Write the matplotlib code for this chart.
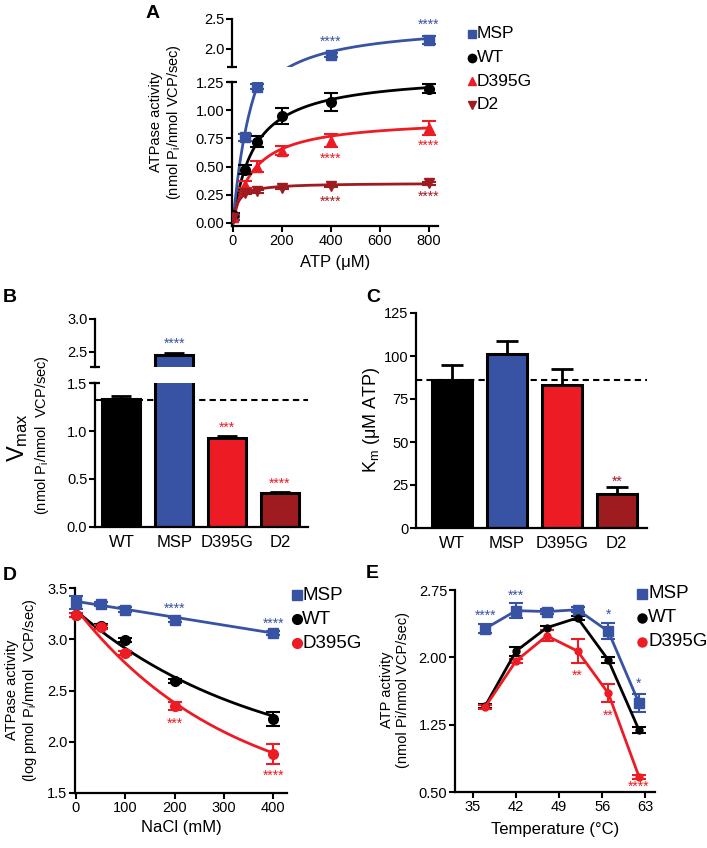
import matplotlib
matplotlib.use('Agg')
import matplotlib.pyplot as plt
import numpy as np

W, H = 707, 848
plt.rcParams['font.family'] = ['Liberation Sans', 'DejaVu Sans']
plt.rcParams['mathtext.fontset'] = 'custom'
plt.rcParams['mathtext.rm'] = 'Liberation Sans'
plt.rcParams['mathtext.it'] = 'Liberation Sans:italic'
plt.rcParams['mathtext.bf'] = 'Liberation Sans:bold'

BLUE = '#3953a4'
BLACK = '#000000'
RED = '#ed1c24'
DRED = '#9e1b20'

# ---------------- Panel A data ----------------
atp_conc = [0, 50, 100, 200, 400, 800]
a_msp_x = [0, 50, 100, 400, 800]
a_msp = [0.05, 0.76, 1.21, 1.90, 2.15]
a_msp_err = [0.02, 0.03, 0.02, 0.04, 0.07]
a_wt = [0.07, 0.47, 0.72, 0.95, 1.07, 1.19]
a_wt_err = [0.02, 0.04, 0.05, 0.07, 0.08, 0.04]
a_d395g = [0.05, 0.34, 0.50, 0.64, 0.73, 0.84]
a_d395g_err = [0.02, 0.03, 0.05, 0.04, 0.06, 0.06]
a_d2 = [0.04, 0.27, 0.28, 0.31, 0.33, 0.35]
a_d2_err = [0.01, 0.01, 0.01, 0.01, 0.01, 0.01]

# ---------------- Panels B / C data (fit parameters) ----------------
groups = ['WT', 'MSP', 'D395G', 'D2']
vmax = [1.33, 2.45, 0.93, 0.355]
vmax_err = [0.03, 0.04, 0.02, 0.01]
km = [86, 101, 83, 19.5]
km_err = [9, 7.5, 9.5, 4.5]
vmax_ref = 1.32
km_ref = 86

# ---------------- Panel D data ----------------
nacl = [0, 50, 100, 200, 400]
d_msp = [3.36, 3.34, 3.29, 3.19, 3.06]
d_msp_err = [0.06, 0.02, 0.02, 0.02, 0.02]
d_wt = [3.24, 3.13, 2.99, 2.59, 2.22]
d_wt_err = [0.02, 0.02, 0.02, 0.02, 0.07]
d_d395g = [3.24, 3.12, 2.87, 2.35, 1.88]
d_d395g_err = [0.02, 0.02, 0.02, 0.04, 0.10]
# fitted decay: plateau, span, rate ; MSP linear: intercept, slope
d_fit_wt = [1.715, 1.565, 0.002683]
d_fit_d395g = [1.332, 1.968, 0.003151]
d_fit_msp = [3.37, -0.000775]

# ---------------- Panel E data ----------------
temps = [37, 42, 47, 52, 57, 62]
e_msp = [2.32, 2.52, 2.51, 2.53, 2.29, 1.49]
e_msp_err = [0.05, 0.08, 0.03, 0.03, 0.09, 0.10]
e_wt = [1.46, 2.07, 2.33, 2.44, 1.97, 1.19]
e_wt_err = [0.02, 0.05, 0.02, 0.02, 0.03, 0.03]
e_d395g = [1.45, 1.96, 2.24, 2.07, 1.60, 0.67]
e_d395g_err = [0.02, 0.02, 0.06, 0.13, 0.10, 0.02]

fig = plt.figure(figsize=(W / 100, H / 100), dpi=100)


def add_ax(l, t, r, b):
    return fig.add_axes([l / W, 1 - b / H, (r - l) / W, (b - t) / H])


def style(ax, bottom=True):
    for s in ['top', 'right']:
        ax.spines[s].set_visible(False)
    ax.spines['left'].set_linewidth(1.6)
    ax.spines['bottom'].set_linewidth(1.6)
    if not bottom:
        ax.spines['bottom'].set_visible(False)
    ax.tick_params(direction='out', length=4, width=1.5, labelsize=10.5, pad=1.5)
    ax.patch.set_alpha(0)


LW = 2.0
EB = dict(capsize=5, elinewidth=1.5, capthick=1.5)

# ================= Panel A =================
aU = add_ax(232, 19, 438, 67)
aL = add_ax(232, 82, 438, 226)
xx = np.linspace(0, 800, 400)
for ax in (aU, aL):
    for vm, k, c in zip(vmax, km, [BLACK, BLUE, RED, DRED]):
        ax.plot(xx, vm * xx / (k + xx), color=c, lw=LW, zorder=2)
    ax.errorbar(a_msp_x, a_msp, yerr=a_msp_err, fmt='s', color=BLUE, ms=7, zorder=3, **EB)
    ax.errorbar(atp_conc, a_wt, yerr=a_wt_err, fmt='o', color=BLACK, ms=7, zorder=3, **EB)
    ax.errorbar(atp_conc, a_d395g, yerr=a_d395g_err, fmt='^', color=RED, ms=7, zorder=3, **EB)
    ax.errorbar(atp_conc, a_d2, yerr=a_d2_err, fmt='v', color=DRED, ms=7, zorder=3, **EB)
    ax.set_xlim(-4, 837)
aU.set_ylim(1.7, 2.5)
aU.set_yticks([2.0, 2.5])
aU.set_yticklabels(['2.0', '2.5'])
style(aU, bottom=False)
aU.set_xticks([])
aL.set_ylim(-0.027, 1.25)
aL.set_yticks([0, 0.25, 0.5, 0.75, 1.0, 1.25])
aL.set_yticklabels(['0.00', '0.25', '0.50', '0.75', '1.00', '1.25'])
aL.set_xticks([0, 200, 400, 600, 800])
style(aL)
aL.set_xlabel('ATP (μM)', fontsize=12, labelpad=5)

star_kw = dict(ha='center', va='center', fontsize=10)
aU.text(400, 2.12, '****', color=BLUE, **star_kw)
aU.text(800, 2.41, '****', color=BLUE, **star_kw)
aL.text(400, 0.57, '****', color=RED, **star_kw)
aL.text(800, 0.68, '****', color=RED, **star_kw)
aL.text(400, 0.19, '****', color=DRED, **star_kw)
aL.text(800, 0.23, '****', color=DRED, **star_kw)

# ================= Panel B =================
bU = add_ax(95, 319, 308, 367)
bL = add_ax(95, 383, 308, 527)
bcol = [BLACK, BLUE, RED, DRED]
xb = np.arange(len(groups))
for ax in (bU, bL):
    ax.axhline(vmax_ref, color='black', lw=1.5, ls=(0, (3, 2)), zorder=1)
    ax.bar(xb, vmax, width=0.72, color=bcol, edgecolor='black', linewidth=2.2, zorder=2)
    ax.errorbar(xb, vmax, yerr=[[0] * 4, vmax_err], fmt='none', ecolor='black',
                capsize=7, elinewidth=2, capthick=2, zorder=1.5)
    ax.set_xlim(-0.5, 3.53)
bU.set_ylim(2.27, 3.0)
bU.set_yticks([2.5, 3.0])
bU.set_yticklabels(['2.5', '3.0'])
style(bU, bottom=False)
bU.set_xticks([])
bL.set_ylim(0, 1.5)
bL.set_yticks([0, 0.5, 1.0, 1.5])
bL.set_yticklabels(['0.0', '0.5', '1.0', '1.5'])
style(bL)
bL.set_xticks(xb)
bL.set_xticklabels(groups, fontsize=12)
bL.tick_params(axis='x', length=0, pad=6)
bU.text(1, 2.63, '****', color=BLUE, **star_kw)
bL.text(2, 1.03, '***', color=RED, **star_kw)
bL.text(3, 0.45, '****', color=RED, **star_kw)

# ================= Panel C =================
cA = add_ax(416, 313, 647, 528)
cA.axhline(km_ref, color='black', lw=1.5, ls=(0, (3, 2)), zorder=1)
cA.bar(xb, km, width=0.72, color=bcol, edgecolor='black', linewidth=2.2, zorder=2)
cA.errorbar(xb, km, yerr=[[0] * 4, km_err], fmt='none', ecolor='black',
            capsize=8, elinewidth=2, capthick=2, zorder=1.5)
cA.set_xlim(-0.65, 3.55)
cA.set_ylim(0, 125)
cA.set_yticks([0, 25, 50, 75, 100, 125])
style(cA)
cA.set_xticks(xb)
cA.set_xticklabels(groups, fontsize=12)
cA.tick_params(axis='x', length=0, pad=6)
cA.text(3, 27, '**', color=DRED, **star_kw)

# ================= Panel D =================
dA = add_ax(75, 588, 287, 793)
xd = np.linspace(0, 400, 300)
dA.plot(xd, d_fit_msp[0] + d_fit_msp[1] * xd, color=BLUE, lw=LW, zorder=2)
dA.plot(xd, d_fit_wt[0] + d_fit_wt[1] * np.exp(-d_fit_wt[2] * xd), color=BLACK, lw=LW, zorder=2)
dA.plot(xd, d_fit_d395g[0] + d_fit_d395g[1] * np.exp(-d_fit_d395g[2] * xd), color=RED, lw=LW, zorder=2)
dA.errorbar(nacl, d_msp, yerr=d_msp_err, fmt='s', color=BLUE, ms=7, zorder=3, clip_on=False, **EB)
dA.errorbar(nacl, d_wt, yerr=d_wt_err, fmt='o', color=BLACK, ms=7, zorder=3, clip_on=False, **EB)
dA.errorbar(nacl, d_d395g, yerr=d_d395g_err, fmt='o', color=RED, ms=7, zorder=3, clip_on=False, **EB)
dA.set_xlim(-2, 428)
dA.set_ylim(1.5, 3.5)
dA.set_xticks([0, 100, 200, 300, 400])
dA.set_yticks([1.5, 2.0, 2.5, 3.0, 3.5])
style(dA)
dA.set_xlabel('NaCl (mM)', fontsize=12, labelpad=4)
dA.text(200, 3.30, '****', color=BLUE, **star_kw)
dA.text(400, 3.15, '****', color=BLUE, **star_kw)
dA.text(200, 2.18, '***', color=RED, **star_kw)
dA.text(400, 1.67, '****', color=RED, **star_kw)

# ================= Panel E =================
eA = add_ax(455, 590, 655, 792)
eA.errorbar(temps, e_msp, yerr=e_msp_err, fmt='-s', color=BLUE, ms=6.5, lw=LW, zorder=3, clip_on=False, **EB)
eA.errorbar(temps, e_wt, yerr=e_wt_err, fmt='-o', color=BLACK, ms=5, lw=LW, zorder=3, clip_on=False, **EB)
eA.errorbar(temps, e_d395g, yerr=e_d395g_err, fmt='-o', color=RED, ms=5, lw=LW, zorder=3, clip_on=False, **EB)
eA.set_xlim(32.07, 64.6)
eA.set_ylim(0.5, 2.75)
eA.set_xticks([35, 42, 49, 56, 63])
eA.set_yticks([0.5, 1.25, 2.0, 2.75])
eA.set_yticklabels(['0.50', '1.25', '2.00', '2.75'])
style(eA)
eA.set_xlabel('Temperature (°C)', fontsize=12, labelpad=6)
eA.text(37, 2.46, '****', color=BLUE, **star_kw)
eA.text(42, 2.69, '***', color=BLUE, **star_kw)
eA.text(57, 2.47, '*', color=BLUE, **star_kw)
eA.text(62, 1.71, '*', color=BLUE, **star_kw)
eA.text(52, 1.79, '**', color=RED, **star_kw)
eA.text(57, 1.35, '**', color=RED, **star_kw)
eA.text(62, 0.56, '****', color=RED, **star_kw)

# ================= Overlay: labels, legends, break marks =================
ov = fig.add_axes([0, 0, 1, 1])
ov.set_xlim(0, W)
ov.set_ylim(H, 0)
ov.axis('off')
ov.patch.set_alpha(0)

for (x, y, s) in [(153, 13, 'A'), (10, 298, 'B'), (373, 298, 'C'), (10, 575, 'D'), (372, 574, 'E')]:
    ov.text(x, y, s, fontsize=14, fontweight='bold', ha='center', va='center')

# break marks
for (x, y) in [(232, 67), (232, 82), (95, 367), (95, 383)]:
    ov.plot([x - 5, x + 5], [y, y], color='black', lw=1.6, solid_capstyle='butt')

# y labels
ov.text(166, 122, 'ATPase activity\n(nmol P$_\\mathrm{i}$/nmol VCP/sec)', rotation=90,
        ha='center', va='center', fontsize=10.5, multialignment='center', linespacing=1.15)
ov.text(18, 437, 'V$_\\mathrm{max}$', rotation=90, ha='center', va='center', fontsize=17)
ov.text(42, 435, '(nmol P$_\\mathrm{i}$/nmol  VCP/sec)', rotation=90, ha='center', va='center', fontsize=10.5)
ov.text(371, 420, 'K$_\\mathrm{m}$ (μM ATP)', rotation=90, ha='center', va='center', fontsize=13)
ov.text(22, 690, 'ATPase activity\n(log pmol P$_\\mathrm{i}$/nmol  VCP/sec)', rotation=90,
        ha='center', va='center', fontsize=10.5, multialignment='center', linespacing=1.15)
ov.text(395, 690, 'ATP activity\n(nmol Pi/nmol VCP/sec)', rotation=90,
        ha='center', va='center', fontsize=10.5, multialignment='center', linespacing=1.15)

# legends
def legend(x, y0, dy, items, fs, tx):
    for i, (m, c, lab, ms) in enumerate(items):
        y = y0 + i * dy
        ov.plot([x], [y], marker=m, color=c, ms=ms, ls='none', clip_on=False)
        ov.text(tx, y, lab, fontsize=fs, ha='left', va='center')

legend(472, 34, 23.5, [('s', BLUE, 'MSP', 6), ('o', BLACK, 'WT', 6), ('^', RED, 'D395G', 6),
                      ('v', DRED, 'D2', 6)], 12.5, 477)
legend(297, 595, 24, [('s', BLUE, 'MSP', 7), ('o', BLACK, 'WT', 7), ('o', RED, 'D395G', 7)], 13.5, 302)
legend(642, 594, 24, [('s', BLUE, 'MSP', 6.5), ('o', BLACK, 'WT', 6.5), ('o', RED, 'D395G', 6.5)], 13.5, 648)

fig.savefig('out.png', dpi=100)
